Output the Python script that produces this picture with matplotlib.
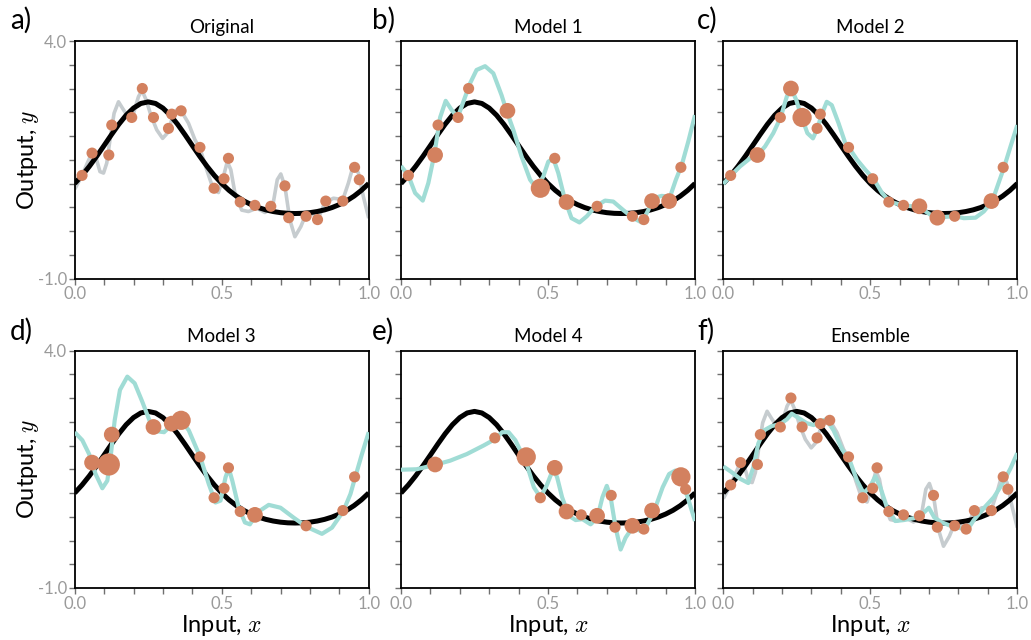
import numpy as np
import matplotlib
matplotlib.use('Agg')
import matplotlib.pyplot as plt

plt.rcParams['font.family'] = ['Lato', 'DejaVu Sans']
plt.rcParams['mathtext.fontset'] = 'cm'

# ---------------- data ----------------
point_x = [0.025, 0.059, 0.116, 0.126, 0.194, 0.230, 0.268, 0.319, 0.330, 0.362,
           0.426, 0.474, 0.508, 0.523, 0.563, 0.613, 0.667, 0.715, 0.728, 0.787,
           0.826, 0.854, 0.912, 0.952, 0.968]
point_y = [1.17, 1.64, 1.60, 2.23, 2.39, 3.00, 2.39, 2.16, 2.46, 2.53,
           1.76, 0.90, 1.10, 1.53, 0.61, 0.54, 0.52, 0.95, 0.28, 0.31,
           0.24, 0.63, 0.63, 1.34, 1.08]

# bootstrap multiplicities of each point for models 1-4
counts_model1 = [1, 0, 2, 1, 1, 1, 0, 0, 0, 2, 0, 3, 0, 1, 2, 0, 1, 0, 0, 1, 1, 2, 2, 1, 0]
counts_model2 = [1, 0, 2, 0, 1, 2, 3, 1, 1, 0, 1, 0, 1, 0, 1, 1, 2, 0, 2, 1, 0, 0, 2, 1, 0]
counts_model3 = [0, 2, 4, 2, 0, 0, 2, 0, 2, 3, 1, 1, 1, 1, 1, 2, 0, 0, 0, 1, 0, 0, 1, 1, 0]
counts_model4 = [0, 0, 2, 0, 0, 0, 0, 1, 0, 0, 3, 1, 0, 2, 2, 1, 2, 1, 1, 2, 1, 2, 0, 3, 1]
counts_all = [1] * 25

# true function (black)
true_x = [0.000, 0.025, 0.050, 0.075, 0.100, 0.125, 0.150, 0.175, 0.200, 0.225,
          0.250, 0.275, 0.300, 0.325, 0.350, 0.375, 0.400, 0.425, 0.450, 0.475,
          0.500, 0.525, 0.550, 0.575, 0.600, 0.625, 0.650, 0.675, 0.700, 0.725,
          0.750, 0.775, 0.800, 0.825, 0.850, 0.875, 0.900, 0.925, 0.950, 0.975, 1.000]
true_y = [1.000, 1.169, 1.362, 1.575, 1.800, 2.028, 2.246, 2.438, 2.588, 2.685,
          2.718, 2.685, 2.588, 2.438, 2.246, 2.028, 1.800, 1.575, 1.362, 1.169,
          1.000, 0.855, 0.734, 0.635, 0.556, 0.493, 0.445, 0.410, 0.386, 0.372,
          0.368, 0.372, 0.386, 0.410, 0.445, 0.493, 0.556, 0.635, 0.734, 0.855, 1.000]

# original model fit (gray)
orig_x = [0.000, 0.025, 0.043, 0.059, 0.073, 0.086, 0.098, 0.109, 0.120, 0.134,
          0.149, 0.163, 0.183, 0.200, 0.217, 0.229, 0.243, 0.259, 0.279, 0.299,
          0.315, 0.330, 0.347, 0.364, 0.387, 0.409, 0.426, 0.449, 0.472, 0.489,
          0.506, 0.519, 0.531, 0.545, 0.568, 0.591, 0.619, 0.647, 0.673, 0.689,
          0.701, 0.715, 0.732, 0.749, 0.769, 0.789, 0.812, 0.829, 0.851, 0.880,
          0.912, 0.931, 0.948, 0.965, 0.982, 1.000]
orig_y = [0.88, 1.17, 1.43, 1.65, 1.53, 1.25, 1.22, 1.43, 1.92, 2.48,
          2.72, 2.58, 2.39, 2.48, 2.83, 2.96, 2.76, 2.44, 2.13, 1.95,
          2.06, 2.34, 2.55, 2.51, 2.27, 1.92, 1.74, 1.29, 0.87, 0.81,
          1.15, 1.46, 1.29, 0.80, 0.44, 0.41, 0.48, 0.39, 0.51, 1.08,
          1.20, 0.94, 0.23, -0.12, 0.09, 0.39, 0.34, 0.27, 0.60, 0.69,
          0.66, 1.01, 1.39, 1.22, 0.72, 0.27]

model1_x = [0.000, 0.025, 0.048, 0.074, 0.093, 0.113, 0.133, 0.152, 0.172, 0.193,
            0.212, 0.235, 0.257, 0.286, 0.314, 0.342, 0.359, 0.382, 0.410, 0.439,
            0.461, 0.484, 0.501, 0.518, 0.535, 0.558, 0.580, 0.607, 0.632, 0.660,
            0.694, 0.722, 0.756, 0.790, 0.819, 0.841, 0.858, 0.887, 0.915, 0.935,
            0.955, 0.977, 1.000]
model1_y = [1.37, 1.17, 0.80, 0.64, 1.01, 1.60, 2.39, 2.74, 2.55, 2.39,
            2.72, 3.11, 3.39, 3.47, 3.32, 2.86, 2.53, 2.13, 1.57, 1.08,
            0.90, 1.15, 1.46, 1.53, 1.22, 0.65, 0.27, 0.18, 0.31, 0.51,
            0.64, 0.62, 0.44, 0.27, 0.18, 0.44, 0.69, 0.74, 0.72, 1.08,
            1.39, 1.88, 2.44]

model2_x = [0.000, 0.026, 0.057, 0.091, 0.117, 0.142, 0.170, 0.195, 0.216, 0.231,
            0.248, 0.267, 0.286, 0.305, 0.320, 0.335, 0.352, 0.369, 0.392, 0.415,
            0.427, 0.455, 0.483, 0.511, 0.540, 0.568, 0.614, 0.668, 0.705, 0.731,
            0.761, 0.790, 0.818, 0.858, 0.886, 0.915, 0.934, 0.955, 0.977, 1.000]
model2_y = [0.99, 1.17, 1.36, 1.53, 1.60, 1.78, 2.06, 2.39, 2.83, 3.00,
            2.76, 2.39, 2.06, 1.95, 2.16, 2.46, 2.72, 2.65, 2.27, 1.85,
            1.76, 1.50, 1.29, 1.10, 0.80, 0.61, 0.54, 0.50, 0.34, 0.28,
            0.30, 0.31, 0.27, 0.28, 0.41, 0.63, 0.97, 1.34, 1.78, 2.23]

model3_x = [0.000, 0.026, 0.049, 0.071, 0.094, 0.111, 0.122, 0.136, 0.154, 0.179,
            0.204, 0.230, 0.256, 0.281, 0.304, 0.332, 0.360, 0.388, 0.428, 0.456,
            0.479, 0.496, 0.513, 0.524, 0.536, 0.558, 0.579, 0.596, 0.621, 0.660,
            0.700, 0.745, 0.788, 0.841, 0.875, 0.913, 0.938, 0.954, 0.977, 1.000]
model3_y = [2.28, 2.11, 1.82, 1.40, 1.10, 1.26, 1.75, 2.53, 3.17, 3.45,
            3.31, 2.92, 2.50, 2.30, 2.28, 2.45, 2.55, 2.32, 1.74, 1.19,
            0.80, 0.84, 1.33, 1.52, 1.26, 0.69, 0.38, 0.34, 0.59, 0.75,
            0.69, 0.48, 0.29, 0.14, 0.27, 0.61, 0.98, 1.33, 1.82, 2.28]

model4_x = [0.000, 0.053, 0.114, 0.167, 0.224, 0.281, 0.319, 0.344, 0.366, 0.389,
            0.412, 0.431, 0.452, 0.474, 0.495, 0.518, 0.531, 0.548, 0.571, 0.594,
            0.617, 0.645, 0.668, 0.685, 0.700, 0.713, 0.730, 0.747, 0.764, 0.787,
            0.816, 0.838, 0.861, 0.890, 0.912, 0.932, 0.952, 0.975, 1.000]
model4_y = [1.49, 1.50, 1.59, 1.68, 1.82, 2.00, 2.13, 2.28, 2.28, 2.11,
            1.82, 1.54, 1.12, 0.91, 1.15, 1.51, 1.33, 0.91, 0.52, 0.43,
            0.45, 0.34, 0.48, 0.91, 1.15, 0.91, 0.27, -0.19, 0.06, 0.27,
            0.20, 0.34, 0.62, 1.12, 1.40, 1.47, 1.33, 0.91, 0.41]

ensemble_x = [0.000, 0.028, 0.057, 0.085, 0.102, 0.119, 0.139, 0.165, 0.193, 0.216,
              0.233, 0.256, 0.284, 0.307, 0.327, 0.350, 0.375, 0.403, 0.432, 0.455,
              0.477, 0.498, 0.517, 0.534, 0.557, 0.585, 0.614, 0.648, 0.676, 0.699,
              0.718, 0.744, 0.773, 0.801, 0.830, 0.852, 0.886, 0.920, 0.949, 0.977, 1.000]
ensemble_y = [1.56, 1.44, 1.30, 1.21, 1.54, 2.04, 2.32, 2.41, 2.45, 2.55,
              2.67, 2.58, 2.47, 2.43, 2.50, 2.55, 2.32, 1.93, 1.65, 1.26,
              1.00, 1.12, 1.35, 1.12, 0.69, 0.41, 0.43, 0.47, 0.55, 0.69,
              0.48, 0.38, 0.31, 0.27, 0.22, 0.43, 0.68, 0.91, 1.19, 1.52, 1.84]

titles = ["Original", "Model 1", "Model 2", "Model 3", "Model 4", "Ensemble"]
letters = ["a)", "b)", "c)", "d)", "e)", "f)"]

# ---------------- style ----------------
DOT = '#D3815F'
CYAN = '#A0DCD5'
GRAY = '#C6CCCF'
TICKCOL = '#9A9A9A'

W, H = 1031, 640
fig = plt.figure(figsize=(W / 100, H / 100), dpi=100)

col_left = [74.7, 401.0, 723.3]
row_top = [41.0, 350.5]
ax_w, ax_h = 294.0, 237.5
letter_x = [10, 372, 697]
letter_y = [20, 331]

panels = [
    dict(curves=[(orig_x, orig_y, GRAY, 2.6, 1)], counts=counts_all),
    dict(curves=[(model1_x, model1_y, CYAN, 3.0, 3)], counts=counts_model1),
    dict(curves=[(model2_x, model2_y, CYAN, 3.0, 3)], counts=counts_model2),
    dict(curves=[(model3_x, model3_y, CYAN, 3.0, 3)], counts=counts_model3),
    dict(curves=[(model4_x, model4_y, CYAN, 3.0, 3)], counts=counts_model4),
    dict(curves=[(orig_x, orig_y, GRAY, 2.6, 1), (ensemble_x, ensemble_y, CYAN, 3.0, 3)],
         counts=counts_all),
]

base_s = 64
for i, p in enumerate(panels):
    r, c = divmod(i, 3)
    left = col_left[c] / W
    bottom = (H - row_top[r] - ax_h) / H
    ax = fig.add_axes([left, bottom, ax_w / W, ax_h / H])
    for (cx, cy, col, lw, z) in p['curves']:
        ax.plot(cx, cy, color=col, lw=lw, zorder=z, solid_capstyle='butt',
                solid_joinstyle='round')
    ax.plot(true_x, true_y, color='black', lw=3.6, zorder=2, solid_capstyle='butt',
            solid_joinstyle='round')
    cnt = np.array(p['counts'])
    m = cnt > 0
    ax.scatter(np.array(point_x)[m], np.array(point_y)[m], s=base_s * cnt[m],
               color=DOT, linewidths=0, zorder=4)
    ax.set_xlim(0, 1)
    ax.set_ylim(-1, 4)
    ax.set_xticks(np.arange(0, 1.01, 0.1), minor=True)
    ax.set_xticks([0, 0.5, 1.0])
    ax.set_yticks(np.arange(-1, 4.01, 0.5), minor=True)
    ax.set_yticks([-1, 4])
    ax.set_xticklabels(['0.0', '0.5', '1.0'])
    if c == 0:
        ax.set_yticklabels(['-1.0', '4.0'])
        ax.set_ylabel(r'Output, $y$', fontsize=17, labelpad=-2)
    else:
        ax.set_yticklabels([])
    if r == 1:
        ax.set_xlabel(r'Input, $x$', fontsize=17, labelpad=1)
    ax.tick_params(which='both', direction='out', length=4, width=1,
                   color='#707070', labelcolor=TICKCOL, labelsize=12, pad=1.5)
    for s in ax.spines.values():
        s.set_linewidth(1.3)
        s.set_color('black')
    ax.set_title(titles[i], fontsize=13.5, pad=6)
    fig.text(letter_x[c] / W, 1 - letter_y[r] / H, letters[i],
             fontsize=20, ha='left', va='center')

fig.savefig('out.png', dpi=100)
